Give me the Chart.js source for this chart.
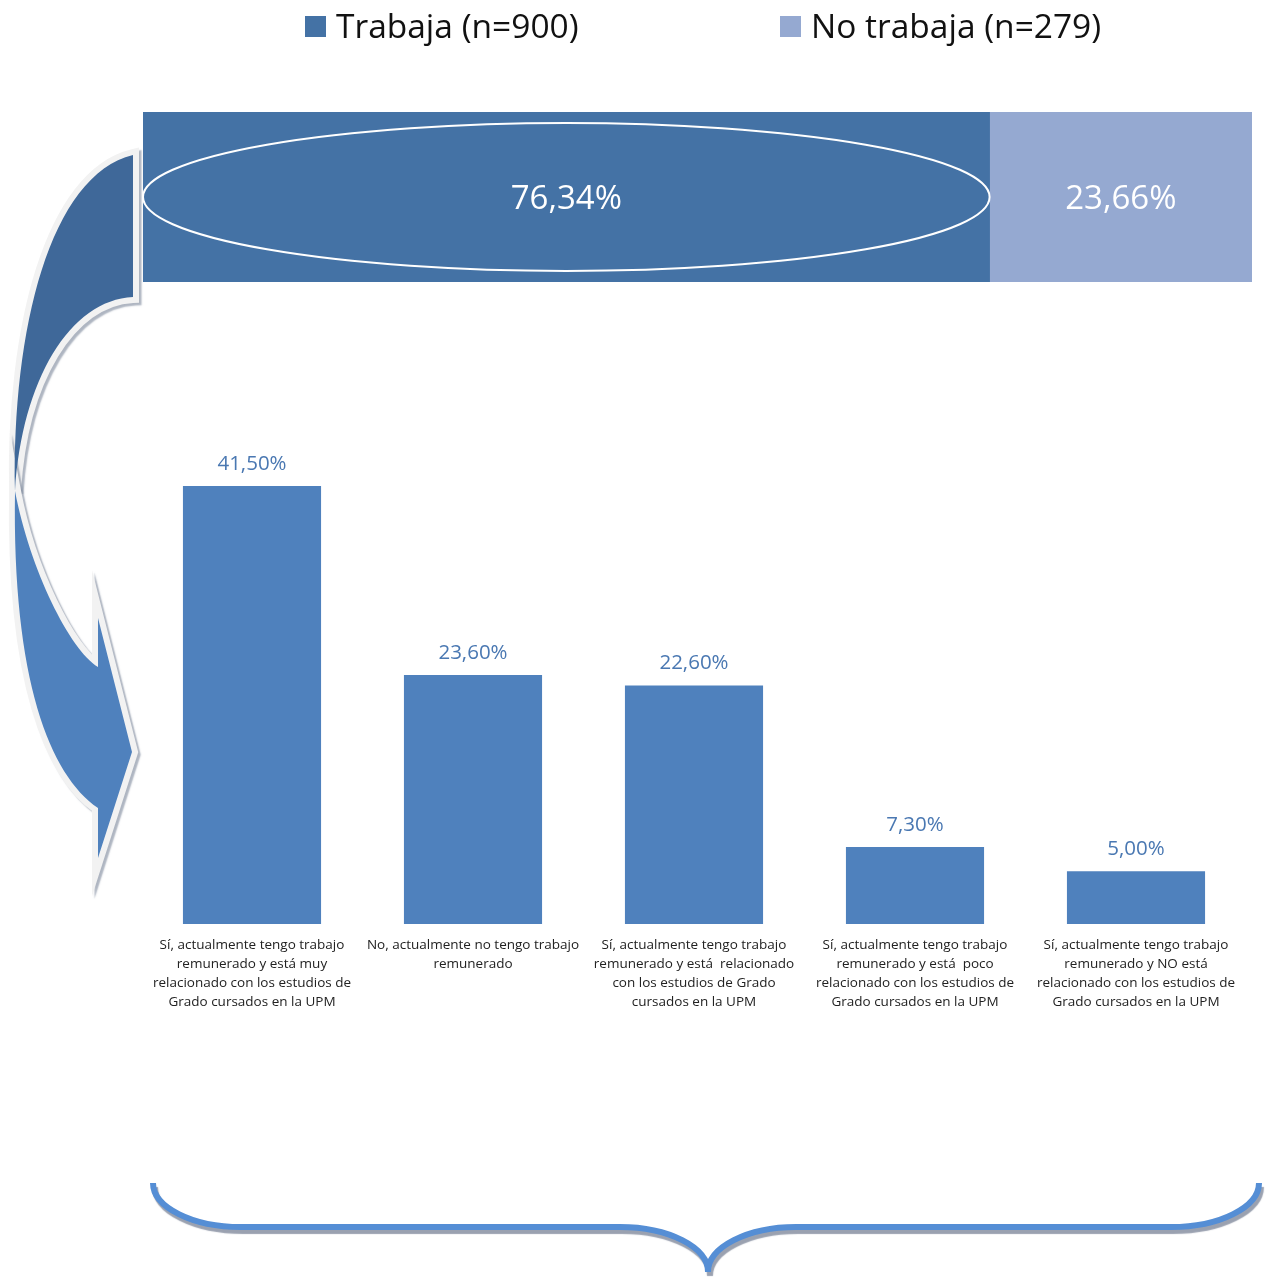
<!DOCTYPE html>
<html>
<head>
<meta charset="utf-8">
<script src="https://cdn.jsdelivr.net/npm/chart.js@4.4.1/dist/chart.umd.min.js"></script>
<style>
  body { margin: 0; background: #fff; }
  #wrap { position: relative; width: 1265px; height: 1278px; }
  canvas { position: absolute; left: 0; top: 0; }
</style>
</head>
<body>
<div id="wrap">
  <canvas id="detail" width="1265" height="1278"></canvas>
  <canvas id="share" width="1265" height="300"></canvas>
</div>
<script>
// top stacked bar: who works
const shareSeries = ['Trabaja (n=900)', 'No trabaja (n=279)'];
const shareValues = [76.34, 23.66];
const shareColors = ['#4472A5', '#95A9D1'];

// bottom bars: breakdown of the "Trabaja" group
const workCategories = [
  ['Sí, actualmente tengo trabajo', 'remunerado y está muy', 'relacionado con los estudios de', 'Grado cursados en la UPM'],
  ['No, actualmente no tengo trabajo', 'remunerado'],
  ['Sí, actualmente tengo trabajo', 'remunerado y está  relacionado', 'con los estudios de Grado', 'cursados en la UPM'],
  ['Sí, actualmente tengo trabajo', 'remunerado y está  poco', 'relacionado con los estudios de', 'Grado cursados en la UPM'],
  ['Sí, actualmente tengo trabajo', 'remunerado y NO está', 'relacionado con los estudios de', 'Grado cursados en la UPM']
];
const workValues = [41.5, 23.6, 22.6, 7.3, 5.0];

Chart.defaults.font.family = "'Open Sans', sans-serif";

function pct(v) {
  return v.toFixed(2).replace('.', ',') + '%';
}

// curved arrow + brace, just decoration
function drawArrow(ctx) {
  const upper = new Path2D();
  upper.moveTo(133, 155);
  upper.lineTo(133, 297);
  upper.bezierCurveTo(70, 300, 22, 380, 15, 491);
  upper.bezierCurveTo(12, 330, 50, 175, 133, 155);
  upper.closePath();

  const lower = new Path2D();
  lower.moveTo(15, 491);
  lower.bezierCurveTo(12, 680, 50, 775, 98, 808);
  lower.lineTo(98, 858);
  lower.lineTo(132, 752);
  lower.lineTo(98, 618);
  lower.lineTo(98, 667);
  lower.bezierCurveTo(70, 650, 30, 570, 15, 491);
  lower.closePath();

  ctx.save();
  ctx.lineJoin = 'miter';
  ctx.miterLimit = 12;
  ctx.lineWidth = 12;
  ctx.strokeStyle = '#F2F2F2';
  ctx.shadowColor = 'rgba(120,132,152,0.6)';
  ctx.shadowOffsetX = 2.5;
  ctx.shadowOffsetY = 2.5;
  ctx.shadowBlur = 1.5;
  ctx.stroke(upper);
  ctx.stroke(lower);
  ctx.shadowColor = 'transparent';
  ctx.fillStyle = '#3F6899';
  ctx.fill(upper);
  ctx.fillStyle = '#4F81BD';
  ctx.fill(lower);
  ctx.restore();
}

function drawBrace(ctx) {
  const k = 0.552;
  const x0 = 153, x1 = 1259, xm = 708;
  const yTop = 1183, yMid = 1227, yTip = 1272;
  const rx = 88, ry = yMid - yTop, rt = yTip - yMid;
  ctx.save();
  ctx.beginPath();
  ctx.moveTo(x0, yTop);
  ctx.bezierCurveTo(x0, yTop + k * ry, x0 + rx - k * rx, yMid, x0 + rx, yMid);
  ctx.lineTo(xm - rx, yMid);
  ctx.bezierCurveTo(xm - rx + k * rx, yMid, xm, yTip - k * rt, xm, yTip);
  ctx.bezierCurveTo(xm, yTip - k * rt, xm + rx - k * rx, yMid, xm + rx, yMid);
  ctx.lineTo(x1 - rx, yMid);
  ctx.bezierCurveTo(x1 - rx + k * rx, yMid, x1, yTop + k * ry, x1, yTop);
  ctx.lineWidth = 6;
  ctx.strokeStyle = '#558ED5';
  ctx.shadowColor = 'rgba(120,130,150,0.75)';
  ctx.shadowOffsetX = 2;
  ctx.shadowOffsetY = 4;
  ctx.shadowBlur = 1;
  ctx.stroke();
  ctx.restore();
}

const detailDecor = {
  id: 'detailDecor',
  afterDraw(chart) {
    const ctx = chart.ctx;
    drawArrow(ctx);
    drawBrace(ctx);
  }
};

const barLabels = {
  id: 'barLabels',
  afterDatasetsDraw(chart) {
    const ctx = chart.ctx;
    const meta = chart.getDatasetMeta(0);
    ctx.save();
    ctx.font = "20.5px 'Open Sans', sans-serif";
    ctx.fillStyle = '#4A78B2';
    ctx.textAlign = 'center';
    ctx.textBaseline = 'middle';
    meta.data.forEach((bar, i) => {
      ctx.fillText(pct(workValues[i]), bar.x, bar.y - 22);
    });
    ctx.restore();
  }
};

new Chart(document.getElementById('detail'), {
  type: 'bar',
  data: {
    labels: workCategories,
    datasets: [{
      data: workValues,
      backgroundColor: '#4F81BD',
      barPercentage: 0.625,
      categoryPercentage: 1
    }]
  },
  options: {
    responsive: false,
    animation: false,
    layout: { padding: { left: 141.5, right: 18.5, top: 449, bottom: 254 } },
    plugins: { legend: { display: false }, tooltip: { enabled: false } },
    scales: {
      y: { display: false, min: 0, max: 45 },
      x: {
        grid: { display: false, drawTicks: false },
        border: { display: false },
        ticks: {
          autoSkip: false,
          maxRotation: 0,
          padding: 12,
          color: '#222',
          font: { size: 13.5, lineHeight: 19 / 13.5 }
        }
      }
    }
  },
  plugins: [detailDecor, barLabels]
});

const shareDecor = {
  id: 'shareDecor',
  afterDatasetsDraw(chart) {
    const ctx = chart.ctx;
    const first = chart.getDatasetMeta(0).data[0];
    ctx.save();
    // ellipse round the first segment
    ctx.beginPath();
    ctx.ellipse((first.base + first.x) / 2, first.y, (first.x - first.base) / 2, first.height * 0.435, 0, 0, Math.PI * 2);
    ctx.strokeStyle = '#fff';
    ctx.lineWidth = 2;
    ctx.stroke();
    // segment values
    ctx.font = "33px 'Open Sans', sans-serif";
    ctx.fillStyle = '#fff';
    ctx.textAlign = 'center';
    ctx.textBaseline = 'middle';
    chart.data.datasets.forEach((ds, i) => {
      const el = chart.getDatasetMeta(i).data[0];
      ctx.fillText(pct(shareValues[i]), (el.base + el.x) / 2, el.y + 3);
    });
    ctx.restore();
  },
  afterDraw(chart) {
    // legend line at the top
    const ctx = chart.ctx;
    const boxes = [305, 780];
    ctx.save();
    ctx.font = "33.5px 'Open Sans', sans-serif";
    ctx.textBaseline = 'middle';
    ctx.textAlign = 'left';
    shareSeries.forEach((name, i) => {
      ctx.fillStyle = shareColors[i];
      ctx.fillRect(boxes[i], 16, 21, 21);
      ctx.fillStyle = '#111';
      ctx.fillText(name, boxes[i] + 31, 28);
    });
    ctx.restore();
  }
};

new Chart(document.getElementById('share'), {
  type: 'bar',
  data: {
    labels: [''],
    datasets: shareSeries.map((name, i) => ({
      label: name,
      data: [shareValues[i]],
      backgroundColor: shareColors[i],
      barPercentage: 1,
      categoryPercentage: 1
    }))
  },
  options: {
    indexAxis: 'y',
    responsive: false,
    animation: false,
    layout: { padding: { left: 143, right: 13, top: 112, bottom: 18 } },
    plugins: { legend: { display: false }, tooltip: { enabled: false } },
    scales: {
      x: { display: false, stacked: true, min: 0, max: 100 },
      y: { display: false, stacked: true }
    }
  },
  plugins: [shareDecor]
});
</script>
</body>
</html>
